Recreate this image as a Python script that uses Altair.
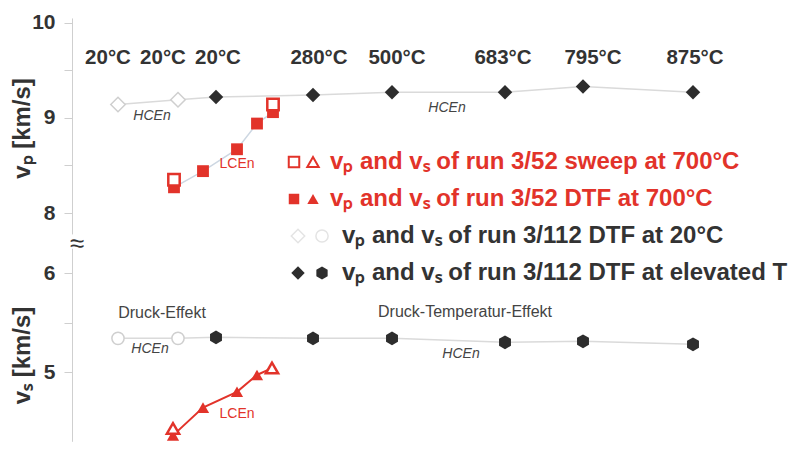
import altair as alt
import pandas as pd

# ---------------- data ----------------
# HCEn run 3/112 (DTF): 20 °C and elevated temperatures
hcen_x = [46, 106, 144, 241, 320, 433, 511, 621]
hcen_temp = ["20°C", "20°C", "20°C", "280°C", "500°C", "683°C", "795°C", "875°C"]
hcen_group = ["20", "20", "elev", "elev", "elev", "elev", "elev", "elev"]
hcen_vp = [9.14, 9.19, 9.22, 9.24, 9.27, 9.27, 9.33, 9.27]
hcen_vs = [5.34, 5.34, 5.35, 5.34, 5.34, 5.30, 5.31, 5.28]
temp_label_x = [36, 91, 146, 247, 325, 431, 521, 623]

# LCEn run 3/52 at 700 °C
dtf_vp_x = [102, 131, 165, 185, 201]
dtf_vp = [8.27, 8.44, 8.67, 8.94, 9.06]
sweep_vp_x = [102, 201]
sweep_vp = [8.35, 9.14]
dtf_vs_x = [101, 131, 165, 185]
dtf_vs = [4.36, 4.64, 4.80, 4.97]
sweep_vs_x = [101, 200]
sweep_vs = [4.43, 5.04]

legend_labels = [
    "vₚ and vₛ of run 3/52 sweep at 700°C",
    "vₚ and vₛ of run 3/52 DTF at 700°C",
    "vₚ and vₛ of run 3/112 DTF at 20°C",
    "vₚ and vₛ of run 3/112 DTF at elevated T",
]

# ---------------- style / layout ----------------
FONT = "Liberation Sans"
RED = "#e2332a"
DARK = "#2d2d2d"
TXT = "#333333"
OPEN = "#cfcfcf"
HEX = "M0,-1L0.866,-0.5L0.866,0.5L0,1L-0.866,0.5L-0.866,-0.5Z"
W, H = 724, 424


def vp_px(v):
    return 4.7 + (10 - v) * 95.15


def vs_px(v):
    return 255 + (6 - v) * 99


vp_dom = [7.78, 10.05]
vs_dom = [4.3, 6.25]

axis_common = dict(
    orient="left", grid=False, domainColor="#cfcfcf", tickColor="#cfcfcf",
    tickSize=8, labelPadding=9, labelFont=FONT, labelFontSize=21,
    labelFontWeight="bold", labelColor=TXT, titleFont=FONT, titleFontSize=24,
    titleFontWeight="bold", titleColor=TXT, titleAngle=270, titleAlign="center",
    titleBaseline="middle", titleX=-50,
    labelExpr="datum.value % 1 == 0 ? format(datum.value, 'd') : ''",
)

x_enc = alt.X("x:Q", scale=alt.Scale(domain=[0, W], nice=False, zero=False), axis=None)

vp_scale = alt.Scale(domain=vp_dom, range=[vp_px(vp_dom[0]), vp_px(vp_dom[1])], nice=False, zero=False)
vs_scale = alt.Scale(domain=vs_dom, range=[vs_px(vs_dom[0]), vs_px(vs_dom[1])], nice=False, zero=False)

vp_y = alt.Y("v:Q", scale=vp_scale,
             axis=alt.Axis(values=[8, 8.5, 9, 9.5, 10], title="vₚ [km/s]", titleY=110, **axis_common))
vs_y = alt.Y("v:Q", scale=vs_scale,
             axis=alt.Axis(values=[5, 5.5, 6], title="vₛ [km/s]", titleY=337, **axis_common))

# ---------------- tables ----------------
hcen_vp_df = pd.DataFrame({"x": hcen_x, "v": hcen_vp, "group": hcen_group,
                           "temp": hcen_temp, "lx": temp_label_x})
hcen_vs_df = pd.DataFrame({"x": hcen_x, "v": hcen_vs, "group": hcen_group})
dtf_vp_df = pd.DataFrame({"x": dtf_vp_x, "v": dtf_vp})
sweep_vp_df = pd.DataFrame({"x": sweep_vp_x, "v": sweep_vp})
dtf_vs_df = pd.DataFrame({"x": dtf_vs_x, "v": dtf_vs})
sweep_vs_df = pd.DataFrame({"x": sweep_vs_x, "v": sweep_vs})
red_line_df = pd.DataFrame({"x": dtf_vs_x + [sweep_vs_x[1]], "v": dtf_vs + [sweep_vs[1]]})

ann_vp = pd.DataFrame({"x": [80, 375], "v": [9.02, 9.10], "t": ["HCEn", "HCEn"]})
ann_vp_red = pd.DataFrame({"x": [165], "v": [8.51], "t": ["LCEn"]})
ann_vs = pd.DataFrame({"x": [78, 389], "v": [5.23, 5.18], "t": ["HCEn", "HCEn"]})
ann_vs_red = pd.DataFrame({"x": [165], "v": [4.58], "t": ["LCEn"]})
ann_vs_eff = pd.DataFrame({"x": [90, 393], "v": [5.60, 5.61],
                           "t": ["Druck-Effekt", "Druck-Temperatur-Effekt"]})
brk = pd.DataFrame({"x": [5], "v": [6.29], "t": ["≈"]})


def pts(df, y, **kw):
    return alt.Chart(df).mark_point(opacity=1, **kw).encode(x=x_enc, y=y)


# ---------------- vp panel ----------------
vp_layer = alt.layer(
    alt.Chart(hcen_vp_df).mark_line(color="#dadada", strokeWidth=1.5).encode(x=x_enc, y=vp_y),
    alt.Chart(dtf_vp_df).mark_line(color="#cdd7e2", strokeWidth=1.5).encode(x=x_enc, y=vp_y),
    pts(hcen_vp_df, vp_y, shape="diamond", size=210, filled=True, fill="white",
        stroke=OPEN, strokeWidth=1.5).transform_filter("datum.group == '20'"),
    pts(hcen_vp_df, vp_y, shape="diamond", size=210, filled=True, color=DARK
        ).transform_filter("datum.group == 'elev'"),
    pts(dtf_vp_df, vp_y, shape="square", size=140, filled=True, color=RED),
    pts(sweep_vp_df, vp_y, shape="square", size=130, filled=True, fill="white",
        stroke=RED, strokeWidth=2.5),
    alt.Chart(hcen_vp_df).mark_text(font=FONT, fontSize=20.5, fontWeight="bold", color=TXT,
                                    baseline="middle").encode(
        x=alt.X("lx:Q", scale=alt.Scale(domain=[0, W], nice=False, zero=False), axis=None),
        y=alt.datum(9.63, scale=vp_scale), text="temp:N"),
    alt.Chart(ann_vp).mark_text(font=FONT, fontSize=14, fontStyle="italic", color="#444444",
                                baseline="middle").encode(x=x_enc, y=vp_y, text="t:N"),
    alt.Chart(ann_vp_red).mark_text(font=FONT, fontSize=14, color=RED,
                                    baseline="middle").encode(x=x_enc, y=vp_y, text="t:N"),
)

# ---------------- vs panel ----------------
vs_layer = alt.layer(
    alt.Chart(hcen_vs_df).mark_line(color="#dadada", strokeWidth=1.5).encode(x=x_enc, y=vs_y),
    alt.Chart(red_line_df).mark_line(color=RED, strokeWidth=2).encode(x=x_enc, y=vs_y),
    pts(hcen_vs_df, vs_y, shape="circle", size=150, filled=True, fill="white",
        stroke=OPEN, strokeWidth=1.5).transform_filter("datum.group == '20'"),
    pts(hcen_vs_df, vs_y, shape=HEX, size=190, filled=True, color=DARK
        ).transform_filter("datum.group == 'elev'"),
    pts(dtf_vs_df, vs_y, shape="triangle-up", size=150, filled=True, color=RED),
    pts(sweep_vs_df, vs_y, shape="triangle-up", size=150, filled=True, fill="white",
        stroke=RED, strokeWidth=2.5),
    alt.Chart(ann_vs).mark_text(font=FONT, fontSize=14, fontStyle="italic", color="#444444",
                                baseline="middle").encode(x=x_enc, y=vs_y, text="t:N"),
    alt.Chart(ann_vs_red).mark_text(font=FONT, fontSize=14, color=RED,
                                    baseline="middle").encode(x=x_enc, y=vs_y, text="t:N"),
    alt.Chart(ann_vs_eff).mark_text(font=FONT, fontSize=16, color="#444444",
                                    baseline="middle").encode(x=x_enc, y=vs_y, text="t:N"),
    alt.Chart(brk).mark_text(font=FONT, fontSize=26, color=TXT,
                             baseline="middle").encode(x=x_enc, y=vs_y, text="t:N"),
)

# ---------------- legend (drawn inside the plot) ----------------
leg_text_x = [258, 258, 270, 270]
leg_df = pd.DataFrame({"row": [0, 1, 2, 3], "label": legend_labels, "x": leg_text_x,
                       "col": [RED, RED, TXT, TXT]})
leg_y = alt.Y("row:Q", scale=alt.Scale(domain=[0, 3], range=[144, 255], nice=False, zero=False),
              axis=None)
sym_a = [222, 222, 226, 226]
sym_b = [241, 241, 250, 250]


def leg_pt(row, xs, **kw):
    d = pd.DataFrame({"row": [row], "x": [xs[row]]})
    return alt.Chart(d).mark_point(opacity=1, **kw).encode(x=x_enc, y=leg_y)


legend_layer = alt.layer(
    leg_pt(0, sym_a, shape="square", size=110, filled=True, fill="white", stroke=RED, strokeWidth=2),
    leg_pt(0, sym_b, shape="triangle-up", size=130, filled=True, fill="white", stroke=RED, strokeWidth=2),
    leg_pt(1, sym_a, shape="square", size=110, filled=True, color=RED),
    leg_pt(1, sym_b, shape="triangle-up", size=130, filled=True, color=RED),
    leg_pt(2, sym_a, shape="diamond", size=180, filled=True, fill="white", stroke="#e4e4e4", strokeWidth=1.5),
    leg_pt(2, sym_b, shape="circle", size=150, filled=True, fill="white", stroke="#e4e4e4", strokeWidth=1.5),
    leg_pt(3, sym_a, shape="diamond", size=180, filled=True, color=DARK),
    leg_pt(3, sym_b, shape=HEX, size=170, filled=True, color=DARK),
    alt.Chart(leg_df).mark_text(font=FONT, fontSize=24, fontWeight="bold", align="left",
                                baseline="middle").encode(
        x=x_enc, y=leg_y, text="label:N", color=alt.Color("col:N", scale=None)),
)

chart = alt.layer(vp_layer, vs_layer, legend_layer).resolve_scale(y="independent").properties(
    width=W, height=H,
    autosize=alt.AutoSizeParams(type="none"),
    padding={"left": 64, "top": 10, "right": 0, "bottom": 0},
    background="white",
).configure_view(stroke=None)

chart.save("out.html", embed_options={"renderer": "svg", "actions": False})
